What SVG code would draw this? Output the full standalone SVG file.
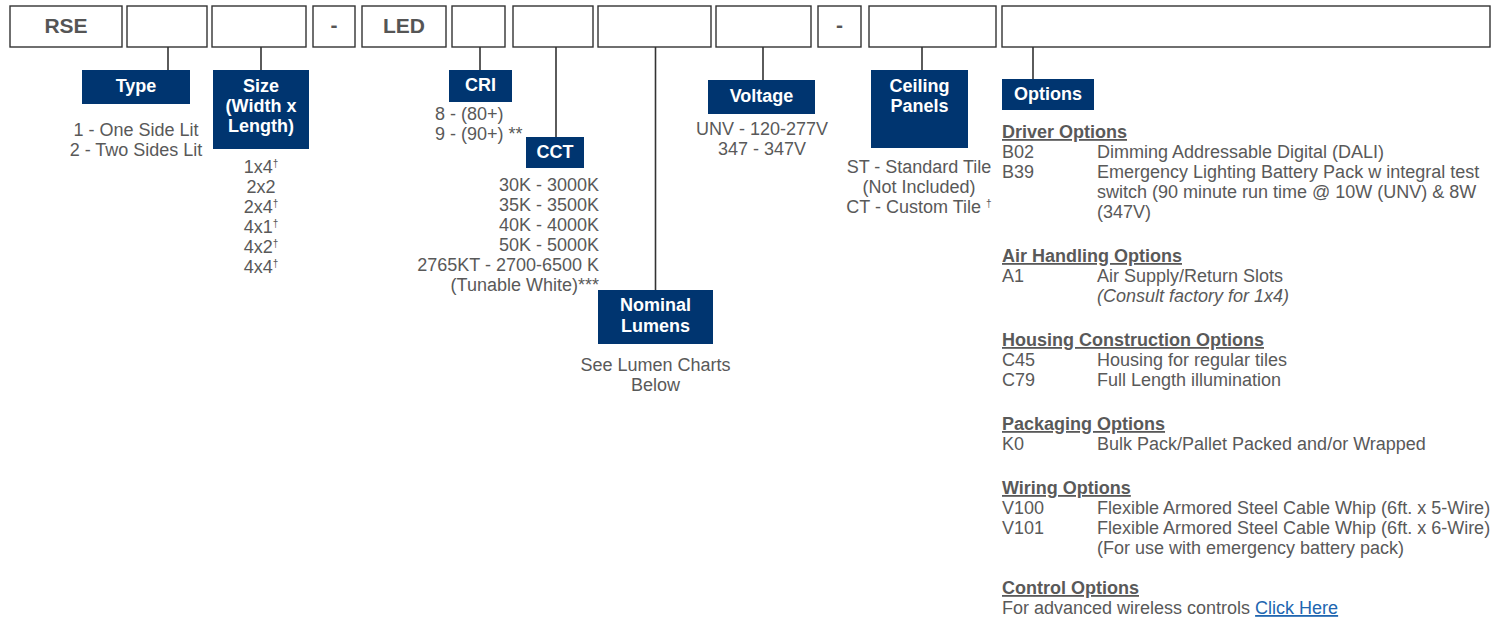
<svg xmlns="http://www.w3.org/2000/svg" width="1501" height="618" viewBox="0 0 1501 618">
<style>
.box{fill:#fff;stroke:#333;stroke-width:1.4}
.lab{fill:#003570}
.lt{fill:#fff;font-family:"Liberation Sans",Arial,sans-serif;font-weight:bold;font-size:18px;text-anchor:middle}
.code{fill:#555;font-family:"Liberation Sans",Arial,sans-serif;font-weight:bold;font-size:21px;text-anchor:middle}
.t{fill:#595959;font-family:"Liberation Sans",Arial,sans-serif;font-size:18px}
.m{text-anchor:middle}
.e{text-anchor:end}
.h{fill:#595959;font-family:"Liberation Sans",Arial,sans-serif;font-size:18px;font-weight:bold;text-decoration:underline}
.sup{font-size:10px}
.link{fill:#2166b0;text-decoration:underline}
.conn line{stroke:#333;stroke-width:1.6}
</style>
<g id="code-boxes">
<rect class="box" x="10" y="6" width="112" height="41"/><text class="code" x="66" y="33">RSE</text>
<rect class="box" x="127" y="6" width="80" height="41"/>
<rect class="box" x="212" y="6" width="94" height="41"/>
<rect class="box" x="313" y="6" width="42" height="41"/><text class="code" x="334" y="32">-</text>
<rect class="box" x="362" y="6" width="84" height="41"/><text class="code" x="404" y="33">LED</text>
<rect class="box" x="452" y="6" width="53" height="41"/>
<rect class="box" x="513" y="6" width="80" height="41"/>
<rect class="box" x="598" y="6" width="113" height="41"/>
<rect class="box" x="716" y="6" width="95" height="41"/>
<rect class="box" x="818" y="6" width="43" height="41"/><text class="code" x="839.5" y="32">-</text>
<rect class="box" x="869" y="6" width="127" height="41"/>
<rect class="box" x="1002" y="6" width="488" height="41"/>
</g>
<g class="conn" id="connectors">
<line x1="168" y1="47" x2="168" y2="70"/>
<line x1="261" y1="47" x2="261" y2="70"/>
<line x1="480" y1="47" x2="480" y2="70"/>
<line x1="556" y1="47" x2="556" y2="137"/>
<line x1="655.5" y1="47" x2="655.5" y2="290"/>
<line x1="763" y1="47" x2="763" y2="80"/>
<line x1="922" y1="47" x2="922" y2="70"/>
<line x1="1033" y1="47" x2="1033" y2="79"/>
</g>
<g id="type">
<rect class="lab" x="82" y="70" width="108" height="34"/>
<text class="lt" x="136" y="92">Type</text>
<text class="t m" x="136" y="136">1 - One Side Lit</text>
<text class="t m" x="136" y="156">2 - Two Sides Lit</text>
</g>
<g id="size">
<rect class="lab" x="213" y="70" width="96" height="79"/>
<text class="lt" x="261" y="92">Size</text>
<text class="lt" x="261" y="112">(Width x</text>
<text class="lt" x="261" y="132">Length)</text>
<text class="t m" x="261" y="173">1x4<tspan class="sup" dy="-6">†</tspan></text>
<text class="t m" x="261" y="193">2x2</text>
<text class="t m" x="261" y="213">2x4<tspan class="sup" dy="-6">†</tspan></text>
<text class="t m" x="261" y="233">4x1<tspan class="sup" dy="-6">†</tspan></text>
<text class="t m" x="261" y="253">4x2<tspan class="sup" dy="-6">†</tspan></text>
<text class="t m" x="261" y="273">4x4<tspan class="sup" dy="-6">†</tspan></text>
</g>
<g id="cri">
<rect class="lab" x="449" y="70" width="63" height="32"/>
<text class="lt" x="480.5" y="91">CRI</text>
<text class="t" x="435" y="120">8 - (80+)</text>
<text class="t" x="435" y="140">9 - (90+) **</text>
</g>
<g id="cct">
<rect class="lab" x="526" y="137" width="58" height="31"/>
<text class="lt" x="555" y="158">CCT</text>
<text class="t e" x="599" y="191">30K - 3000K</text>
<text class="t e" x="599" y="211">35K - 3500K</text>
<text class="t e" x="599" y="231">40K - 4000K</text>
<text class="t e" x="599" y="251">50K - 5000K</text>
<text class="t e" x="599" y="271">2765KT - 2700-6500 K</text>
<text class="t e" x="599" y="291">(Tunable White)***</text>
</g>
<g id="lumens">
<rect class="lab" x="598" y="290" width="115" height="54"/>
<text class="lt" x="655.5" y="311">Nominal</text>
<text class="lt" x="655.5" y="332">Lumens</text>
<text class="t m" x="655.5" y="371">See Lumen Charts</text>
<text class="t m" x="655.5" y="391">Below</text>
</g>
<g id="voltage">
<rect class="lab" x="708" y="80" width="107" height="34"/>
<text class="lt" x="761.5" y="102">Voltage</text>
<text class="t m" x="762" y="135">UNV - 120-277V</text>
<text class="t m" x="762" y="155">347 - 347V</text>
</g>
<g id="ceiling">
<rect class="lab" x="871" y="70" width="97" height="78"/>
<text class="lt" x="919.5" y="92">Ceiling</text>
<text class="lt" x="919.5" y="112">Panels</text>
<text class="t m" x="919" y="173">ST - Standard Tile</text>
<text class="t m" x="919" y="193">(Not Included)</text>
<text class="t m" x="919" y="213">CT - Custom Tile <tspan class="sup" dy="-6">†</tspan></text>
</g>
<g id="options">
<rect class="lab" x="1002" y="79" width="92" height="31"/>
<text class="lt" x="1048" y="100">Options</text>
<text class="h" x="1002" y="138">Driver Options</text>
<text class="t" x="1002" y="158">B02</text><text class="t" x="1097" y="158">Dimming Addressable Digital (DALI)</text>
<text class="t" x="1002" y="178">B39</text><text class="t" x="1097" y="178">Emergency Lighting Battery Pack w integral test</text>
<text class="t" x="1097" y="198">switch (90 minute run time @ 10W (UNV) &amp; 8W</text>
<text class="t" x="1097" y="218">(347V)</text>
<text class="h" x="1002" y="262">Air Handling Options</text>
<text class="t" x="1002" y="282">A1</text><text class="t" x="1097" y="282">Air Supply/Return Slots</text>
<text class="t" x="1097" y="302" font-style="italic">(Consult factory for 1x4)</text>
<text class="h" x="1002" y="346">Housing Construction Options</text>
<text class="t" x="1002" y="366">C45</text><text class="t" x="1097" y="366">Housing for regular tiles</text>
<text class="t" x="1002" y="386">C79</text><text class="t" x="1097" y="386">Full Length illumination</text>
<text class="h" x="1002" y="430">Packaging Options</text>
<text class="t" x="1002" y="450">K0</text><text class="t" x="1097" y="450">Bulk Pack/Pallet Packed and/or Wrapped</text>
<text class="h" x="1002" y="494">Wiring Options</text>
<text class="t" x="1002" y="514">V100</text><text class="t" x="1097" y="514">Flexible Armored Steel Cable Whip (6ft. x 5-Wire)</text>
<text class="t" x="1002" y="534">V101</text><text class="t" x="1097" y="534">Flexible Armored Steel Cable Whip (6ft. x 6-Wire)</text>
<text class="t" x="1097" y="554">(For use with emergency battery pack)</text>
<text class="h" x="1002" y="594">Control Options</text>
<text class="t" x="1002" y="614">For advanced wireless controls <tspan class="link">Click Here</tspan></text>
</g>
</svg>
